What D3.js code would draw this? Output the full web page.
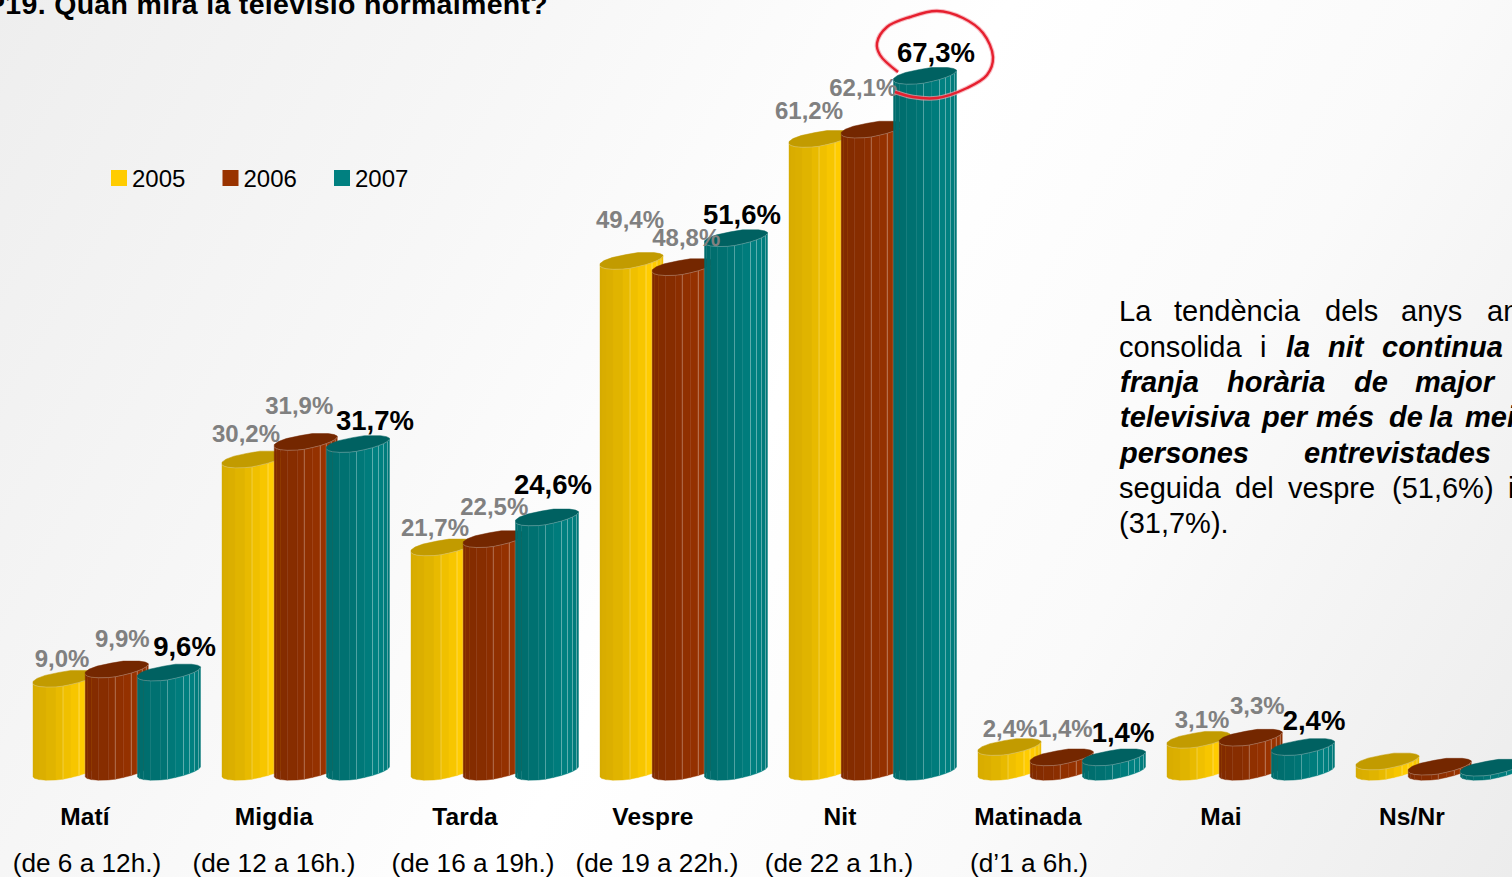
<!DOCTYPE html>
<html><head><meta charset="utf-8">
<style>html,body{margin:0;padding:0;overflow:hidden;background:#fff}svg{display:block;font-family:"Liberation Sans",Arial,sans-serif}</style>
<script src="https://cdn.jsdelivr.net/npm/d3@7/dist/d3.min.js"></script>
</head><body><svg id="c" width="1512" height="877"></svg>
<script>
// ---- data ----
const categories = ["Matí","Migdia","Tarda","Vespre","Nit","Matinada","Mai","Ns/Nr"];
const subLabels  = ["(de 6 a 12h.)","(de 12 a 16h.)","(de 16 a 19h.)","(de 19 a 22h.)","(de 22 a 1h.)","(d’1 a 6h.)"];
const years = ["2005","2006","2007"];
const values2005 = [9.0,30.2,21.7,49.4,61.2,2.4,3.1,1.0];
const values2006 = [9.9,31.9,22.5,48.8,62.1,1.4,3.3,0.5];
const values2007 = [9.6,31.7,24.6,51.6,67.3,1.4,2.4,0.4];
const labelled = [true,true,true,true,true,true,true,false];
const title = "P19. Quan mira la televisió normalment?";

// ---- layout / style (separate from the data) ----
const colors = ["#ffcc00","#993300","#008080"];
const series = [values2005,values2006,values2007];
const labelDx = [[29,24,24,30,20,32,35],[37,25,31,34,22,35,38],[47,48.5,37.5,37.5,42.5,40.5,42.5]];
const labelDy = [[-17,-23,-17,-38,-25,-15,-17],[-28,-33,-29,-26,-39,-25.5,-29],[-22,-19,-29,-19,-19,-20.5,-22]];
const catDx = [0,0,2,1,-1,-2,2,4];
const subDx = [2,0,10,5,-2,-1];
const frontArc = [[0,0],[2,1.5],[6,2.6],[13,3.2],[23,3],[30,2.2],[38,.5],[46,-1.5],[52,-3.5],[57,-5.5],[61,-7.8],[63,-10]];
const backArc  = [[63,-11],[60,-12.5],[54,-13.5],[38,-13.5],[26,-11.5],[12,-8.5],[4,-5.5],[0,-2.5]];
const shades = [.84,.85,.86,.88,.91,.94,.97,1,1,.97,.93];
const ridge  = [0,0,0,0,0,.25,0,.3,.3,.3,.3];
const topShade = .76;

const svg = d3.select("#c");
const defs = svg.append("defs");
const grad = defs.append("linearGradient").attr("id","bg").attr("gradientUnits","userSpaceOnUse")
  .attr("x1",0).attr("y1",0).attr("x2",1512).attr("y2",877);
[[0,"#eeeeee"],[.28,"#f7f7f7"],[.5,"#ffffff"],[.72,"#fafafa"],[1,"#ececec"]].forEach(([o,c])=>grad.append("stop").attr("offset",o).attr("stop-color",c));
svg.append("rect").attr("width",1512).attr("height",877).attr("fill","url(#bg)");

const x0 = d3.scaleBand().domain(categories).range([33,33+189*8]);
const x1 = d3.scaleBand().domain(years).range([0,156.75]);
const y  = d3.scaleLinear().domain([0,67.3]).range([777,81]);
const shade = (c,s)=>{const r=d3.rgb(c);return d3.rgb(r.r*s,r.g*s,r.b*s).formatHex();};
const line = d3.line();

// bars
categories.forEach(cat=>{
  const g = svg.append("g").attr("class","group");
  years.forEach((yr,s)=>{
    const i = categories.indexOf(cat), v = series[s][i];
    const left = x0(cat)+x1(yr), top = y(v), base = y(0);
    const bar = g.append("g").attr("class","bar");
    const pts = frontArc.map(([u,w])=>({u,w}));
    bar.selectAll("path.facet").data(d3.pairs(pts)).join("path").attr("class","facet")
      .attr("d",([a,b])=>line([[left+a.u,top+a.w],[left+b.u,top+b.w],[left+b.u,base+b.w],[left+a.u,base+a.w]])+"Z")
      .attr("fill",(d,k)=>shade(colors[s],shades[k]))
      .attr("stroke",(d,k)=>shade(colors[s],shades[k])).attr("stroke-width",.4);
    bar.selectAll("path.ridge").data(pts.slice(1,-1)).join("path").attr("class","ridge")
      .attr("d",d=>line([[left+d.u,top+d.w],[left+d.u,base+d.w]]))
      .attr("stroke","#fff").attr("stroke-opacity",(d,k)=>ridge[k+1]).attr("stroke-width",1);
    bar.append("path")
      .attr("d",line(frontArc.concat(backArc).map(([u,w])=>[left+u,top+w]))+"Z")
      .attr("fill",shade(colors[s],topShade))
      .attr("stroke",shade(colors[s],topShade)).attr("stroke-width",.5);
    bar.append("path")
      .attr("d",line(frontArc.map(([u,w])=>[left+u,top+w])))
      .attr("fill","none").attr("stroke","#fff").attr("stroke-opacity",.25).attr("stroke-width",1);
  });
});

// value labels (grey first, current year on top)
years.forEach((yr,s)=>{
  categories.forEach((cat,i)=>{
    if(!labelled[i]) return;
    const v = series[s][i];
    svg.append("text").attr("class","val")
      .attr("x",x0(cat)+x1(yr)+labelDx[s][i]).attr("y",y(v)+labelDy[s][i])
      .attr("text-anchor","middle").attr("font-weight","bold")
      .attr("font-size",s===2?27.5:24).attr("fill",s===2?"#000":"#808080")
      .text(d3.format(".1f")(v).replace(".",",")+"%");
  });
});

// category axis
const cx = (c,i)=>x0(c)+52+catDx[i];
categories.forEach((c,i)=>{
  svg.append("text").attr("x",cx(c,i)).attr("y",825).attr("text-anchor","middle")
    .attr("font-weight","bold").attr("font-size",24.5).attr("letter-spacing",.15).attr("fill","#000").text(c);
});
subLabels.forEach((t,i)=>{
  svg.append("text").attr("x",x0(categories[i])+52+subDx[i]).attr("y",872).attr("text-anchor","middle")
    .attr("font-size",26.2).attr("fill","#000").text(t);
});

// title
svg.append("text").attr("x",-14).attr("y",14).attr("font-weight","bold").attr("font-size",28.5).attr("letter-spacing",.32).attr("fill","#000").text(title);

// legend
const legendX = d3.scaleLinear().domain([0,2]).range([111,334]);
years.forEach((yr,s)=>{
  svg.append("rect").attr("x",legendX(s)).attr("y",170).attr("width",16).attr("height",16).attr("fill",colors[s]);
  svg.append("text").attr("x",legendX(s)+21).attr("y",187).attr("font-size",24).attr("fill","#000").text(yr);
});

// commentary, justified as in the reference
const noteLines = [
 [321,[["La",1119,0],["tendència",1174,0],["dels",1325,0],["anys",1401,0],["anteriors",1487,0]]],
 [357,[["consolida",1119,0],["i",1260,0],["la",1286,1],["nit",1328,1],["continua",1382,1]]],
 [392,[["franja",1120,1],["horària",1227,1],["de",1354,1],["major",1415,1]]],
 [427,[["televisiva",1120,1],["per",1262,1],["més",1316,1],["de",1389,1],["la",1429,1],["meitat",1465,1]]],
 [463,[["persones",1120,1],["entrevistades",1304,1]]],
 [498,[["seguida",1119,0],["del",1235,0],["vespre",1288,0],["(51,6%)",1392,0],["i",1508,0]]],
 [533,[["(31,7%).",1119,0]]]
];
noteLines.forEach(([by,words])=>words.forEach(([w,wx,b])=>{
  svg.append("text").attr("x",wx).attr("y",by).attr("font-size",29).attr("fill","#000")
    .attr("font-weight",b?"bold":"normal").attr("font-style",b?"italic":"normal").text(w);
}));

// hand-drawn highlight round the top value
const ring = [[898,72],[880,55],[877,43],[887,27],[910,17],[937,11],[963,18],[983,33],[993,57],[987,75],[967,88],[937,98],[913,97],[895,92]];
const ringPath = d3.line().curve(d3.curveCatmullRom)(ring);
svg.append("path").attr("d",ringPath).attr("fill","none").attr("stroke","#f5a0aa").attr("stroke-width",4.5).attr("stroke-opacity",.7);
svg.append("path").attr("d",ringPath).attr("fill","none").attr("stroke","#e6202f").attr("stroke-width",2.4);
</script></body></html>
